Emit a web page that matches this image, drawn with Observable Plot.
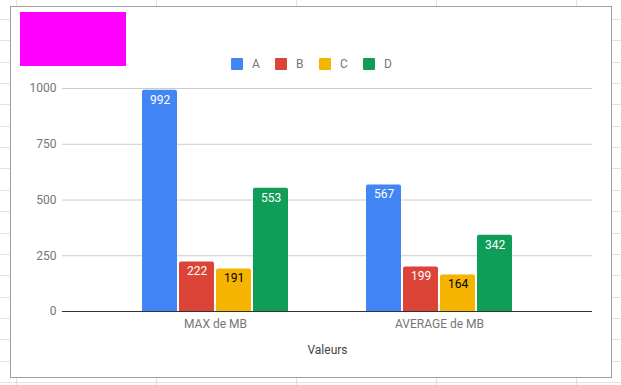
<!DOCTYPE html>
<html><head><meta charset="utf-8">
<script src="https://cdn.jsdelivr.net/npm/d3@7"></script>
<script src="https://cdn.jsdelivr.net/npm/@observablehq/plot@0.6"></script>
<style>
html,body{margin:0;padding:0;background:#fff;}
body{width:621px;height:385px;position:relative;overflow:hidden;font-family:Roboto,sans-serif;}
#bg{position:absolute;left:0;top:0;}
#box{position:absolute;left:10px;top:6px;width:600px;height:370px;background:#fff;border:1px solid #9e9e9e;}
#logo{position:absolute;left:20px;top:12px;width:106px;height:54px;background:#ff00ff;}
#legend{position:absolute;left:231px;top:57px;display:flex;font-size:12px;color:#757575;}
.item{display:flex;align-items:center;width:44px;height:14px;}
.sw{width:12px;height:12px;border-radius:1px;margin-right:9px;}
.layer{position:absolute;left:0;top:0;}
</style></head><body>
<div id="bg"></div><div id="box"></div><div id="logo"></div><div id="legend"></div>
<div id="back" class="layer"></div><div id="front" class="layer"></div>
<script>
const categories = ["MAX de MB", "AVERAGE de MB"];
const series = ["A", "B", "C", "D"];
const valuesA = [992, 567];
const valuesB = [222, 199];
const valuesC = [191, 164];
const valuesD = [553, 342];
const yTicks = [0, 250, 500, 750, 1000];
const axisTitle = "Valeurs";
const seriesColors = ["#4285f4", "#db4437", "#f4b400", "#0f9d58"];
const labelColors = ["#ffffff", "#ffffff", "#000000", "#ffffff"];

const seriesValues = [valuesA, valuesB, valuesC, valuesD];
const data = [];
categories.forEach((cat, i) => {
  series.forEach((s, j) => data.push({cat, series: s, value: seriesValues[j][i], label: labelColors[j]}));
});

// spreadsheet background grid
const bg = d3.select("#bg").append("svg").attr("width", 621).attr("height", 385);
[16, 156, 296, 436, 576].forEach(x => bg.append("line").attr("x1", x + 0.5).attr("x2", x + 0.5).attr("y1", 0).attr("y2", 385).attr("stroke", "#e2e2e2"));
for (let i = 0; i < 18; i++) {
  const y = Math.round(19 + i * 21.35) + 0.5;
  bg.append("line").attr("x1", 0).attr("x2", 621).attr("y1", y).attr("y2", y).attr("stroke", "#e2e2e2");
}

// legend
const legend = d3.select("#legend");
series.forEach((s, j) => {
  const it = legend.append("div").attr("class", "item");
  it.append("div").attr("class", "sw").style("background", seriesColors[j]);
  it.append("span").text(s);
});

const common = {
  width: 621,
  height: 385,
  marginLeft: 62,
  marginRight: 29,
  marginTop: 88,
  marginBottom: 74,
  style: {fontFamily: "Roboto, sans-serif", fontSize: "12px", background: "transparent"}
};

// back layer: grid, y tick labels, baseline, axis title
const back = Plot.plot({
  ...common,
  x: {domain: [0, 1], axis: null},
  y: {domain: [0, 1000], axis: null},
  marks: [
    Plot.ruleY(yTicks.filter(d => d > 0), {stroke: "#cccccc"}),
    Plot.ruleY([0], {stroke: "#333333"}),
    Plot.axisY({ticks: yTicks, tickFormat: d => String(d), tickSize: 0, tickPadding: 6, fontSize: 12, color: "#757575", label: null}),
    Plot.text([axisTitle], {text: d => d, frameAnchor: "bottom", dy: 42, fill: "#444444", fontSize: 12})
  ]
});
document.getElementById("back").appendChild(back);

// front layer: grouped bars, value labels, category axis
const front = Plot.plot({
  ...common,
  fx: {domain: categories, paddingInner: 0.35, paddingOuter: 0.355},
  x: {domain: series, paddingInner: 0.055, paddingOuter: 0, axis: null},
  y: {domain: [0, 1000], axis: null},
  color: {domain: series, range: seriesColors},
  marks: [
    Plot.barY(data, {fx: "cat", x: "series", y: "value", fill: "series", ry1: 2}),
    Plot.text(data, {fx: "cat", x: "series", y: "value", text: d => String(d.value), dy: 9.5, fill: d => d.label, fontSize: 12}),
    Plot.axisFx({anchor: "bottom", tickSize: 0, tickPadding: 8, fontSize: 12, color: "#757575", label: null})
  ]
});
document.getElementById("front").appendChild(front);
</script>
</body></html>
